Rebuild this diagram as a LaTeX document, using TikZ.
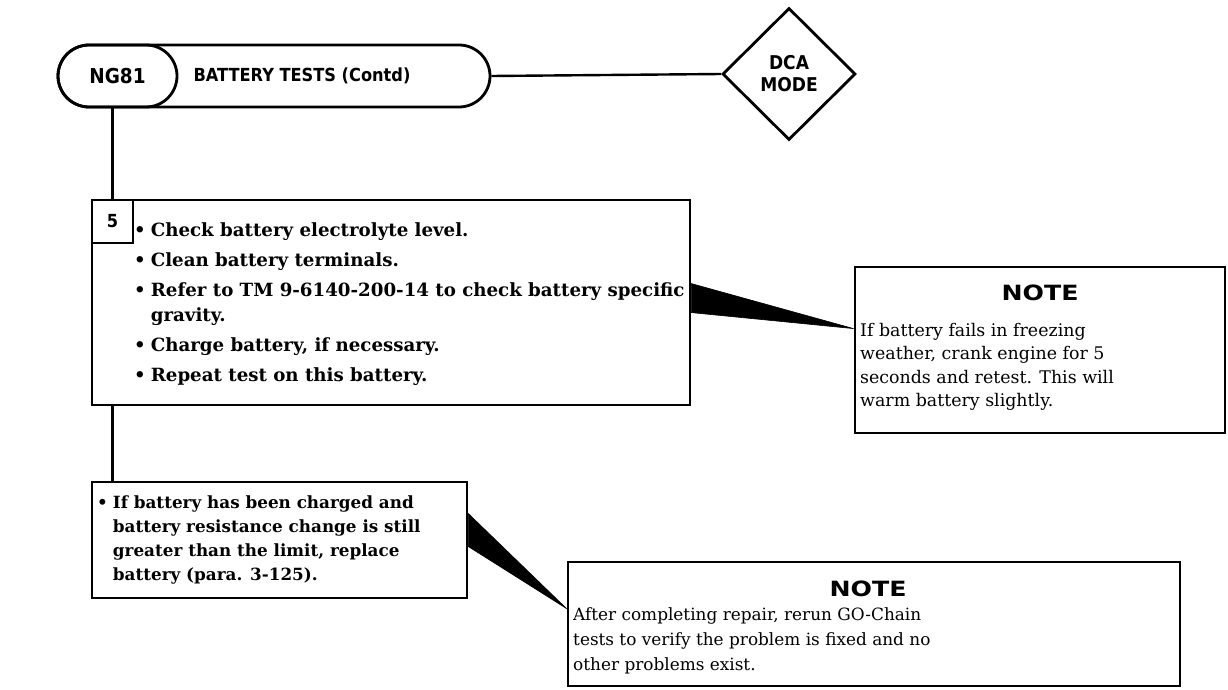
\documentclass[tikz,border=0pt]{standalone}
\usepackage{fontspec}
\setmainfont{DejaVu Serif}
\newfontfamily\headfont{DejaVu Sans}[FakeStretch=0.9]
\newfontfamily\noteheadfont{DejaVu Sans}[FakeStretch=1.2]
\usetikzlibrary{shapes.geometric,positioning,calc}

\begin{document}
\begin{tikzpicture}[x=1pt, y=-1pt,
    outline/.style={draw=black, line width=2.8pt},
    pill/.style={outline, rectangle, rounded corners=31pt, minimum height=62pt, inner sep=0pt},
    stepbox/.style={outline, rectangle, inner sep=0pt},
    decision/.style={outline, diamond, inner sep=0pt, minimum width=133pt, minimum height=132pt, align=center, font=\headfont\bfseries\fontsize{19}{22}\selectfont},
    headtext/.style={font=\headfont\bfseries\fontsize{18}{20}\selectfont},
    notehead/.style={font=\noteheadfont\bfseries\fontsize{21}{24}\selectfont},
    steptext/.style={anchor=base west, inner sep=0pt, font=\bfseries\fontsize{18.2}{25}\selectfont},
    lowtext/.style={anchor=base west, inner sep=0pt, font=\bfseries\fontsize{16.8}{24}\selectfont},
    notetext/.style={anchor=base west, inner sep=0pt, font=\fontsize{17.4}{23.5}\selectfont},
    link/.style={line width=2.4pt},
    wedge/.style={fill=black, draw=black, line width=0.6pt}
]
\path[use as bounding box, fill=white] (0,0) rectangle (1228,690);

% header
\node[pill, minimum width=432pt] (head) at (274,76) {};
\node[pill, minimum width=119pt, font=\headfont\bfseries\fontsize{20.5}{22}\selectfont] (ng) at (117.5,76) {NG81};
\node[headtext] (title) at (302,76) {BATTERY TESTS (Contd)};
\node[decision] (dca) at (789,74) {DCA\\MODE};

% step 5
\node[stepbox, minimum width=598pt, minimum height=205pt] (box5) at (391,302.5) {};
\node[stepbox, minimum width=41pt, minimum height=43pt, headtext] (num5) at (112.5,221.5) {5};
\node[steptext] (list5) at (134,236) {%
  \begin{tabular}[t]{@{}c@{\hspace{5pt}}l@{}}
  \textbullet & Check battery electrolyte level.\\[5pt]
  \textbullet & Clean battery terminals.\\[5pt]
  \textbullet & Refer to TM 9-6140-200-14 to check battery specific\\
              & gravity.\\[5pt]
  \textbullet & Charge battery, if necessary.\\[5pt]
  \textbullet & Repeat test on this battery.
  \end{tabular}};

% first note
\node[stepbox, minimum width=370pt, minimum height=166pt] (note1) at (1040,350) {};
\node[notehead] (note1h) at (1040,293) {NOTE};
\node[notetext] (note1t) at (860,336) {%
  \begin{tabular}[t]{@{}l@{}}
  If battery fails in freezing\\
  weather, crank engine for 5\\
  seconds and retest. This will\\
  warm battery slightly.
  \end{tabular}};

% replace step
\node[stepbox, minimum width=375pt, minimum height=116pt] (low) at (279.5,540) {};
\node[lowtext] (lowt) at (97,508) {%
  \begin{tabular}[t]{@{}c@{\hspace{5pt}}l@{}}
  \textbullet & If battery has been charged and\\
              & battery resistance change is still\\
              & greater than the limit, replace\\
              & battery (para. 3-125).
  \end{tabular}};

% second note
\node[stepbox, minimum width=612pt, minimum height=124pt] (note2) at (874,624) {};
\node[notehead] (note2h) at (868,589) {NOTE};
\node[notetext, font=\fontsize{16.9}{25}\selectfont] (note2t) at (573,620) {%
  \begin{tabular}[t]{@{}l@{}}
  After completing repair, rerun GO-Chain\\
  tests to verify the problem is fixed and no\\
  other problems exist.
  \end{tabular}};

% connectors
\draw[link] (head.east) -- (dca.west);
\draw[link] (num5.north |- ng.south) -- (num5.north);
\draw[link] (num5.north |- box5.south) -- (num5.north |- low.north);

% pointers
\fill[wedge] ($(box5.north east)+(0,85)$) -- ($(note1.north west)+(0,63)$) -- ($(box5.north east)+(0,114)$) -- cycle;
\fill[wedge] ($(low.north east)+(0,33)$) -- ($(note2.north west)+(0,48)$) -- ($(low.north east)+(0,66)$) -- cycle;
\end{tikzpicture}
\end{document}
